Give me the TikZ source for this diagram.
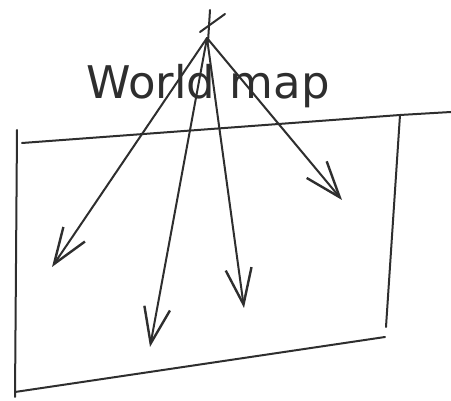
\documentclass[tikz,border=0pt]{standalone}
\usepackage{xcolor}
\usepackage{fontspec}
\newfontfamily\handfont{DejaVu Sans}
\usepackage{tikz}
\usetikzlibrary{arrows.meta,positioning}

\begin{document}
\begin{tikzpicture}[
x=1pt, y=-1pt,
pen/.style={line width=2pt, line cap=round, line join=round, draw=black!82},
arr/.style={pen, -{Straight Barb[length=36pt,width=26pt,line width=2.4pt]}},
lbl/.style={font=\handfont\fontsize{45}{45}\selectfont, text=black!82, inner sep=0pt}
]
\useasboundingbox (0,0) rectangle (451,401);

% frame of the map
\coordinate (tl) at (22,143);
\coordinate (tr) at (400,115);
\coordinate (topend) at (451,112);
\coordinate (bl) at (15,392);
\coordinate (br) at (385,337);
\draw[pen] (tl) -- (tr) -- (topend);
\draw[pen] (17,130) -- (15,397);
\draw[pen] (bl) -- (br);
\draw[pen] (tr) -- (386,327);

% viewpoint
\coordinate (apex) at (207,38);
\draw[pen] (210,10) -- (208,42);
\draw[pen] (225,14) -- (200,32);

\node[lbl, anchor=base] (title) at (208,99) {World map};

% rays onto the map
\coordinate (west) at (52,267);
\coordinate (south) at (150,347);
\coordinate (mid) at (244,308);
\coordinate (east) at (342,200);
\draw[arr] (apex) -- (west);
\draw[arr] (apex) -- (south);
\draw[arr] (apex) -- (mid);
\draw[arr] (apex) -- (east);
\end{tikzpicture}
\end{document}
